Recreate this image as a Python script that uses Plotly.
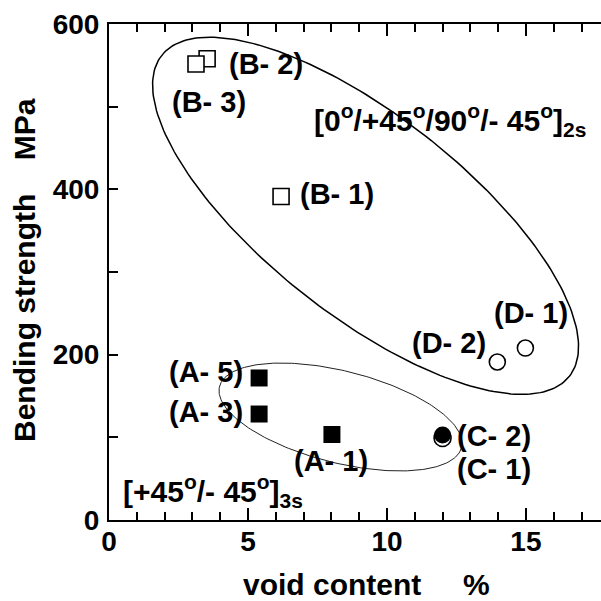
import numpy as np
import plotly.graph_objects as go

# ---------------- data ----------------
a_labels = ["(A- 1)", "(A- 3)", "(A- 5)"]
a_void = [8.02, 5.40, 5.40]
a_strength = [103.4, 128.2, 171.8]

b_labels = ["(B- 1)", "(B- 2)", "(B- 3)"]
b_void = [6.19, 3.53, 3.13]
b_strength = [391.3, 558.0, 551.6]

c1_labels = ["(C- 1)"]
c1_void = [12.0]
c1_strength = [99.2]

c2_labels = ["(C- 2)"]
c2_void = [12.0]
c2_strength = [102.8]

d_labels = ["(D- 1)", "(D- 2)"]
d_void = [14.98, 13.97]
d_strength = [208.0, 191.1]

x_ticks = [0, 5, 10, 15]
y_ticks = [0, 200, 400, 600]

# ---------------- layout constants ----------------
W, H = 601, 601
ML, MR, MT, MB = 109, 0, 24, 81
XR = [0, 17.7]
YR = [0, 600]
SX = (W - ML - MR) / (XR[1] - XR[0])   # px per unit
SY = (H - MT - MB) / (YR[1] - YR[0])

FONT = "Liberation Sans, Arial, sans-serif"

# label placement: (xanchor, xshift px, yshift px)
label_pos = {
    "(A- 1)": ("left", -40, -26.5),
    "(A- 3)": ("right", -14, 2),
    "(A- 5)": ("right", -14, 6),
    "(B- 1)": ("left", 17, 3),
    "(B- 2)": ("left", 20, -5.5),
    "(B- 3)": ("left", -26, -37.5),
    "(C- 1)": ("left", 12, -31),
    "(C- 2)": ("left", 12.5, -1),
    "(D- 1)": ("left", -33.5, 35),
    "(D- 2)": ("right", -9.5, 19),
}


def ellipse(cx, cy, a_px, b_px, theta_deg, n=240):
    t = np.linspace(0, 2 * np.pi, n)
    th = np.radians(theta_deg)
    u = a_px * np.cos(t)
    v = b_px * np.sin(t)
    dx = u * np.cos(th) - v * np.sin(th)
    dy = u * np.sin(th) + v * np.cos(th)  # screen (y down)
    return cx + dx / SX, cy - dy / SY


fig = go.Figure()

ex, ey = ellipse(9.23, 368.0, 259.4, 99.8, 38.2)
fig.add_trace(go.Scatter(x=ex, y=ey, mode="lines", line=dict(color="black", width=1.5),
                         hoverinfo="skip", showlegend=False))
ex2, ey2 = ellipse(8.33, 124.6, 124.8, 45.9, 14.15)
fig.add_trace(go.Scatter(x=ex2, y=ey2, mode="lines", line=dict(color="#222", width=1),
                         hoverinfo="skip", showlegend=False))

mk_line = dict(color="black", width=1.6)
fig.add_trace(go.Scatter(x=a_void, y=a_strength, mode="markers", showlegend=False,
                         marker=dict(symbol="square", size=17, color="black", line=dict(width=0))))
fig.add_trace(go.Scatter(x=b_void, y=b_strength, mode="markers", showlegend=False,
                         marker=dict(symbol="square", size=16, color="white", line=mk_line)))
fig.add_trace(go.Scatter(x=c1_void, y=c1_strength, mode="markers", showlegend=False,
                         marker=dict(symbol="circle", size=17, color="white", line=mk_line)))
fig.add_trace(go.Scatter(x=c2_void, y=c2_strength, mode="markers", showlegend=False,
                         marker=dict(symbol="circle", size=17, color="black", line=dict(width=0))))
fig.add_trace(go.Scatter(x=d_void, y=d_strength, mode="markers", showlegend=False,
                         marker=dict(symbol="circle", size=16, color="white", line=mk_line)))

lab_font = dict(family=FONT, size=29, color="black", weight="bold")
for labs, xs, ys in [(a_labels, a_void, a_strength), (b_labels, b_void, b_strength),
                     (c1_labels, c1_void, c1_strength), (c2_labels, c2_void, c2_strength),
                     (d_labels, d_void, d_strength)]:
    for lab, x, y in zip(labs, xs, ys):
        anc, xs_, ys_ = label_pos[lab]
        fig.add_annotation(x=x, y=y, text=lab, showarrow=False, xanchor=anc, yanchor="middle",
                           xshift=xs_, yshift=ys_, font=lab_font)

br_font = dict(family=FONT, size=30, color="black", weight="bold")
fig.add_annotation(x=7.30, y=484, text="[0<sup>o</sup>/+45<sup>o</sup>/90<sup>o</sup>/- 45<sup>o</sup>]<sub>2s</sub>",
                   showarrow=False, xanchor="left", yanchor="middle", font=br_font)
fig.add_annotation(x=0.44, y=35, text="[+45<sup>o</sup>/- 45<sup>o</sup>]<sub>3s</sub>",
                   showarrow=False, xanchor="left", yanchor="middle", font=br_font)

title_font = dict(family=FONT, size=30, color="black", weight="bold")
fig.add_annotation(xref="paper", yref="paper", x=(366 - ML) / (W - ML - MR), y=(H - MB - 584) / (H - MT - MB),
                   text="void content\u00a0\u00a0\u00a0\u00a0\u00a0%", showarrow=False,
                   xanchor="center", yanchor="middle", font=title_font)
fig.add_annotation(xref="paper", yref="paper", x=(24 - ML) / (W - ML - MR), y=(H - MB - 270) / (H - MT - MB),
                   text="Bending strength\u00a0\u00a0\u00a0\u00a0MPa", showarrow=False, textangle=-90,
                   xanchor="center", yanchor="middle", font=title_font)

tick_font = dict(family=FONT, size=28, color="black", weight="bold")
fig.update_xaxes(range=XR, tickvals=x_ticks, ticks="inside", ticklen=12, tickwidth=1.5, tickcolor="black",
                 minor=dict(dtick=1, ticks="inside", ticklen=8, tickwidth=1.5, tickcolor="black", showgrid=False),
                 showline=True, linewidth=2, linecolor="black", mirror="ticks",
                 showgrid=False, zeroline=False, tickfont=tick_font, ticklabelstandoff=-5)
fig.update_yaxes(range=YR, tickvals=y_ticks, ticks="inside", ticklen=9, tickwidth=1.5, tickcolor="black",
                 minor=dict(dtick=100, ticks="inside", ticklen=9, tickwidth=1.5, tickcolor="black", showgrid=False),
                 showline=True, linewidth=2, linecolor="black",
                 showgrid=False, zeroline=False, tickfont=tick_font, ticklabelstandoff=2)

fig.update_layout(width=W, height=H, margin=dict(l=ML, r=MR, t=MT, b=MB),
                  plot_bgcolor="white", paper_bgcolor="white", showlegend=False,
                  font=dict(family=FONT, color="black"))
fig.write_html("out.html", config={"displayModeBar": False},
               post_script="document.body.style.margin='0';document.body.style.overflow='hidden';")
